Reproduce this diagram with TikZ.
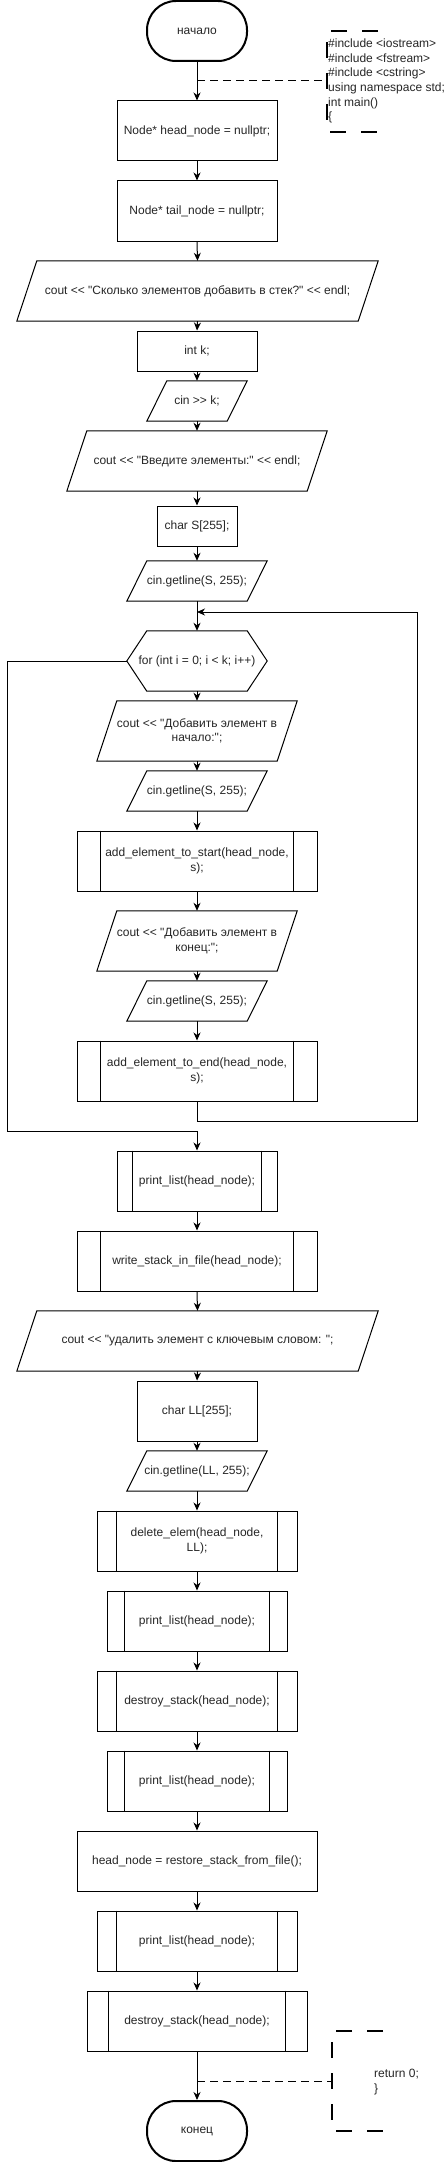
\documentclass[tikz,border=0pt]{standalone}
\usepackage{fontspec}
\newfontfamily\lfont{Liberation Sans}
\usetikzlibrary{arrows.meta}
\begin{document}
\begin{tikzpicture}[x=1pt,y=-1pt,
  base/.style={font=\lfont\fontsize{12}{14.6}\selectfont, inner sep=0pt, align=center, text=black!85},
  term/.style={base, draw, line width=2pt, rounded corners=29pt, minimum width=100pt, minimum height=60pt},
  proc/.style={base, draw, line width=1pt},
  io/.style={base},
  flow/.style={-{Stealth[length=8pt,width=7pt,inset=2.5pt]}, line width=1pt},
  plain/.style={line width=1pt},
  dashline/.style={line width=1pt, dash pattern=on 8pt off 5pt},
  bracket/.style={line width=2pt, dash pattern=on 16pt off 15pt}
]
\path[use as bounding box, fill=white] (0,0) rectangle (447,2162);

% nodes
\node[term] (start) at (197,31) {начало};
\node[proc, minimum width=160pt, minimum height=60pt] (n1) at (197,131) {Node* head\_node = nullptr;};
\node[proc, minimum width=160pt, minimum height=60pt] (n2) at (197,211) {Node* tail\_node = nullptr;};
\node[io, minimum width=361pt, minimum height=60pt] (p1) at (197.5,291) {cout << "Сколько элементов добавить в стек?" << endl;};
\node[proc, minimum width=120pt, minimum height=40pt] (n3) at (197,351) {int k;};
\node[io, minimum width=100pt, minimum height=40pt] (p2) at (197,401) {cin >> k;};
\node[io, minimum width=260pt, minimum height=60pt] (p3) at (197,461) {cout << "Введите элементы:" << endl;};
\node[proc, minimum width=80pt, minimum height=40pt] (n4) at (197,526) {char S[255];};
\node[io, minimum width=140pt, minimum height=40pt] (p4) at (197,581) {cin.getline(S, 255);};
\node[io, minimum width=140pt, minimum height=60pt] (hex) at (197,661) {for (int i = 0; i < k; i++)};
\node[io, minimum width=200pt, minimum height=60pt] (p5) at (197,731) {cout << "Добавить элемент в\\начало:";};
\node[io, minimum width=140pt, minimum height=40pt] (p6) at (197,791) {cin.getline(S, 255);};
\node[proc, minimum width=240pt, minimum height=60pt] (s1) at (197,861) {add\_element\_to\_start(head\_node,\\s);};
\node[io, minimum width=200pt, minimum height=60pt] (p7) at (197,941) {cout << "Добавить элемент в\\конец:";};
\node[io, minimum width=140pt, minimum height=40pt] (p8) at (197,1001) {cin.getline(S, 255);};
\node[proc, minimum width=240pt, minimum height=60pt] (s2) at (197,1071) {add\_element\_to\_end(head\_node,\\s);};
\node[proc, minimum width=160pt, minimum height=60pt] (s3) at (197,1181) {print\_list(head\_node);};
\node[proc, minimum width=240pt, minimum height=60pt] (s4) at (197,1261) {write\_stack\_in\_file(head\_node);};
\node[io, minimum width=361pt, minimum height=60pt] (p9) at (197.5,1341) {cout << "удалить элемент с ключевым словом: ";};
\node[proc, minimum width=120pt, minimum height=60pt] (n5) at (197,1411) {char LL[255];};
\node[io, minimum width=140pt, minimum height=40pt] (p10) at (197,1471) {cin.getline(LL, 255);};
\node[proc, minimum width=200pt, minimum height=60pt] (s5) at (197,1541) {delete\_elem(head\_node,\\LL);};
\node[proc, minimum width=180pt, minimum height=60pt] (s6) at (197,1621) {print\_list(head\_node);};
\node[proc, minimum width=200pt, minimum height=60pt] (s7) at (197,1701) {destroy\_stack(head\_node);};
\node[proc, minimum width=180pt, minimum height=60pt] (s8) at (197,1781) {print\_list(head\_node);};
\node[proc, minimum width=240pt, minimum height=60pt] (n6) at (197,1861) {head\_node = restore\_stack\_from\_file();};
\node[proc, minimum width=200pt, minimum height=60pt] (s9) at (197,1941) {print\_list(head\_node);};
\node[proc, minimum width=220pt, minimum height=60pt] (s10) at (197,2021) {destroy\_stack(head\_node);};
\node[term] (end) at (197,2131) {конец};

% parallelograms
\foreach \n in {p1,p2,p3,p4,p5,p6,p7,p8,p9,p10}
  \draw[plain] ([xshift=20pt]\n.north west) -- (\n.north east) -- ([xshift=-20pt]\n.south east) -- (\n.south west) -- cycle;
% hexagon
\draw[plain] ([xshift=20pt]hex.north west) -- ([xshift=-20pt]hex.north east) -- (hex.east)
  -- ([xshift=-20pt]hex.south east) -- ([xshift=20pt]hex.south west) -- (hex.west) -- cycle;
% subroutine inner lines
\foreach \n/\d in {s1/24,s2/24,s3/16,s4/24,s5/20,s6/18,s7/20,s8/18,s9/20,s10/22}{
  \draw[plain] ([xshift=\d pt]\n.north west) -- ([xshift=\d pt]\n.south west);
  \draw[plain] ([xshift=-\d pt]\n.north east) -- ([xshift=-\d pt]\n.south east);
}

% main flow
\foreach \a/\b in {start/n1,n1/n2,n2/p1,p1/n3,n3/p2,p2/p3,p3/n4,n4/p4,p4/hex,hex/p5,p5/p6,p6/s1,s1/p7,p7/p8,p8/s2,
  s3/s4,s4/p9,p9/n5,n5/p10,p10/s5,s5/s6,s6/s7,s7/s8,s8/n6,n6/s9,s9/s10,s10/end}
  \draw[flow] (\a.south) -- (\b.north);

% loop back
\coordinate (rb) at (417,1121);
\coordinate (rt) at (417,612);
\coordinate (mt) at (197,612);
\draw[flow] (s2.south) |- (rb) -- (rt) -- (mt);
% loop exit
\coordinate (lt) at (7,661);
\coordinate (lb) at (7,1131);
\coordinate (mb) at (197,1131);
\draw[flow] (hex.west) -- (lt) -- (lb) -- (mb) -- (s3.north);

% annotations
\coordinate (a1) at (197,81);
\coordinate (b1) at (327,81);
\draw[dashline] (a1) -- (b1);
\draw[bracket] (378,31) -- (327,31) -- (327,132) -- (378,132);
\node[base, align=left, anchor=west] (code1) at (328,81) {\#include <iostream>\\\#include <fstream>\\\#include <cstring>\\using namespace std;\\int main()\\\{};

\coordinate (a2) at (197,2081);
\coordinate (b2) at (332,2081);
\draw[dashline] (a2) -- (b2);
\draw[bracket] (383,2031) -- (332,2031) -- (332,2131) -- (383,2131);
\node[base, align=left, anchor=west] (code2) at (374,2082) {return 0;\\\}};
\end{tikzpicture}
\end{document}
